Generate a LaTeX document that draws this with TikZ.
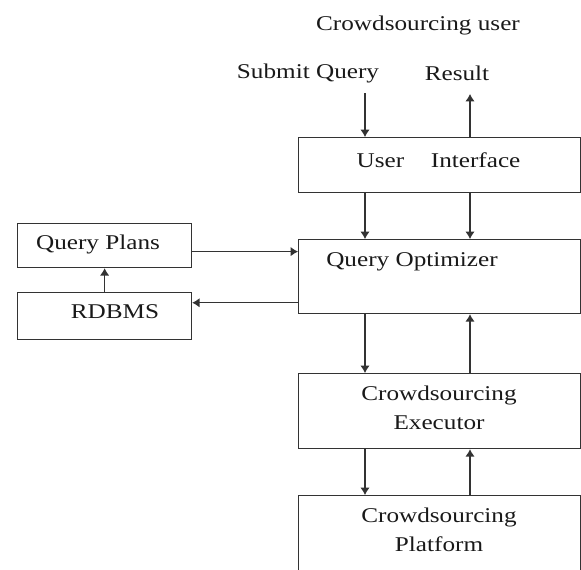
\documentclass[tikz,border=0pt]{standalone}
\usepackage{fontspec}
\setmainfont{Liberation Serif}[FakeStretch=1.2]
\usetikzlibrary{arrows.meta}
\tikzset{
  blk/.style={draw, rectangle, inner sep=0pt, anchor=north west},
  lbl/.style={inner sep=0pt, align=center, text=black!90, font=\fontsize{15.75}{21.75}\selectfont},
}
\begin{document}
\begin{tikzpicture}[x=0.75pt, y=-0.75pt, >={Latex[length=5.5pt,width=7pt]}, line width=0.9pt, color=black!80]
\useasboundingbox (0,0) rectangle (581,569);
\clip (0,0) rectangle (581,569);
\node[blk, minimum width=211.5pt, minimum height=41.25pt] (ui) at (298,137) {};
\node[blk, minimum width=211.5pt, minimum height=55.5pt] (qo) at (298,239) {};
\node[blk, minimum width=130.5pt, minimum height=33pt] (qp) at (17,223) {};
\node[blk, minimum width=130.5pt, minimum height=35.25pt] (rdb) at (17,292) {};
\node[blk, minimum width=211.5pt, minimum height=56.25pt] (exe) at (298,373) {};
\node[blk, minimum width=211.5pt, minimum height=75pt] (plat) at (298,495) {};
\node[lbl] (cu) at (418,25) {Crowdsourcing user};
\node[lbl] (sq) at (308,73) {Submit Query};
\node[lbl] (res) at (457,73) {Result};
\node[lbl] at (438.5,160) {User\hspace{20pt}Interface};
\node[lbl] at (412,262) {Query Optimizer};
\node[lbl] at (98,244) {Query Plans};
\node[lbl] at (115,312) {RDBMS};
\node[lbl] at (439,408) {Crowdsourcing\\Executor};
\node[lbl] at (439,530) {Crowdsourcing\\Platform};
\coordinate (dn) at (365,93);
\coordinate (up) at (470,94);
\draw[->] (dn) -- (dn |- ui.north);
\draw[->] (up |- ui.north) -- (up);
\draw[->] (ui.south -| dn) -- (qo.north -| dn);
\draw[->] (ui.south -| up) -- (qo.north -| up);
\draw[->] ([yshift=-4.5pt]qp.east) -- ([yshift=-4.5pt]qp.east -| qo.west);
\draw[->] ([yshift=10pt]rdb.east -| qo.west) -- ([yshift=10pt]rdb.east);
\draw[->] (rdb.north) -- (qp.south);
\draw[->] (qo.south -| dn) -- (exe.north -| dn);
\draw[->] (exe.north -| up) -- (qo.south -| up);
\draw[->] (exe.south -| dn) -- (plat.north -| dn);
\draw[->] (plat.north -| up) -- (exe.south -| up);
\end{tikzpicture}
\end{document}
